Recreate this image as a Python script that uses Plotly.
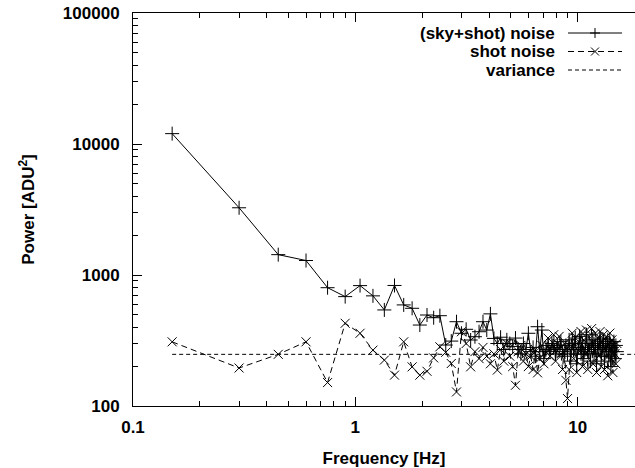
import math
import plotly.graph_objects as go

freq = [0.15, 0.30, 0.45, 0.60, 0.75, 0.90, 1.05, 1.20, 1.35, 1.50,
        1.65, 1.80, 1.95, 2.10, 2.25, 2.40, 2.55, 2.70, 2.85, 3.00,
        3.15, 3.30, 3.45, 3.60, 3.75, 3.90, 4.05, 4.20, 4.35, 4.50,
        4.65, 4.80, 4.95, 5.10, 5.25, 5.40, 5.55, 5.70, 5.85, 6.00,
        6.15, 6.30, 6.45, 6.60, 6.75, 6.90, 7.05, 7.20, 7.35, 7.50,
        7.65, 7.80, 7.95, 8.10, 8.25, 8.40, 8.55, 8.70, 8.85, 9.00,
        9.15, 9.30, 9.45, 9.60, 9.75, 9.90, 10.05, 10.20, 10.35, 10.50,
        10.65, 10.80, 10.95, 11.10, 11.25, 11.40, 11.55, 11.70, 11.85, 12.00,
        12.15, 12.30, 12.45, 12.60, 12.75, 12.90, 13.05, 13.20, 13.35, 13.50,
        13.65, 13.80, 13.95, 14.10, 14.25, 14.40, 14.55, 14.70, 14.85, 15.00]

sky_shot = [12000, 3260, 1430, 1290, 800, 684, 830, 693, 541, 832,
            591, 557, 415, 495, 472, 489, 292, 313, 440, 359,
            385, 319, 338, 369, 440, 380, 505, 328, 300, 335,
            270, 320, 300, 285, 330, 270, 250, 300, 270, 359,
            260, 280, 240, 403, 260, 380, 230, 270, 290, 260,
            300, 280, 250, 290, 270, 310, 260, 240, 290, 250,
            320, 220, 300, 270, 330, 210, 280, 340, 250, 300,
            230, 270, 350, 260, 300, 220, 280, 320, 250, 290,
            210, 300, 270, 330, 240, 280, 310, 220, 290, 260,
            320, 240, 300, 200, 280, 260, 310, 230, 290, 260]

shot = [309, 195, 248, 309, 151, 428, 359, 267, 224, 172,
        309, 199, 172, 184, 233, 283, 257, 211, 128, 369,
        300, 199, 260, 230, 280, 240, 210, 250, 188, 270,
        220, 300, 240, 200, 144, 260, 290, 220, 250, 200,
        240, 190, 270, 179, 230, 290, 210, 260, 330, 240,
        280, 350, 220, 300, 340, 250, 190, 300, 157, 114,
        190, 280, 360, 230, 330, 180, 300, 260, 370, 200,
        320, 250, 380, 190, 340, 270, 390, 210, 300, 360,
        180, 330, 240, 370, 200, 310, 350, 190, 280, 340,
        170, 300, 360, 230, 320, 180, 290, 250, 210, 300]

variance_level = 248
variance_x = [0.15, 30.0]

legend_names = ["(sky+shot) noise", "shot noise", "variance"]

x_major = [0.1, 1, 10]
x_major_text = ["0.1", "1", "10"]
x_minor = [0.2, 0.3, 0.4, 0.5, 0.6, 0.7, 0.8, 0.9, 2, 3, 4, 5, 6, 7, 8, 9, 20]
y_major = [100, 1000, 10000, 100000]
y_major_text = ["100", "1000", "10000", "100000"]
y_minor = [m * d for d in (100, 1000, 10000) for m in range(2, 10)]

W, H = 635, 468
ML, MR, MT, MB = 133, 0, 13, 62
PW, PH = W - ML - MR, H - MT - MB
XR = [-1, math.log10(18.1)]
YR = [2, 5]

FONT = "Liberation Sans, Arial, sans-serif"
FS = 17

fig = go.Figure()
fig.add_trace(go.Scatter(x=freq, y=sky_shot, mode="lines+markers",
                         line=dict(color="black", width=1),
                         marker=dict(symbol="cross-thin-open", size=10,
                                     line=dict(color="black", width=1)),
                         name=legend_names[0], showlegend=False))
fig.add_trace(go.Scatter(x=freq, y=shot, mode="lines+markers",
                         line=dict(color="black", width=1, dash="6px,4px"),
                         marker=dict(symbol="x-thin-open", size=9,
                                     line=dict(color="black", width=1)),
                         name=legend_names[1], showlegend=False))
fig.add_trace(go.Scatter(x=variance_x, y=[variance_level, variance_level],
                         mode="lines",
                         line=dict(color="black", width=1, dash="4px,3px"),
                         name=legend_names[2], showlegend=False))
# invisible helper trace so the minor-tick overlay axes get drawn
fig.add_trace(go.Scatter(x=[1], y=[1000], xaxis="x2", yaxis="y2", mode="markers",
                         marker=dict(opacity=0), hoverinfo="skip", showlegend=False))

fig.update_layout(
    xaxis=dict(type="log", range=XR,
               showline=True, linecolor="black", linewidth=1, mirror="ticks",
               ticks="inside", ticklen=9, tickcolor="black",
               tickmode="array", tickvals=x_major, ticktext=x_major_text,
               showgrid=False, zeroline=False, ticklabelstandoff=6,
               tickfont=dict(family=FONT, size=FS, color="black", weight="bold"),
               title=dict(text="<b>Frequency [Hz]</b>", standoff=16,
                          font=dict(family=FONT, size=FS, color="black"))),
    yaxis=dict(type="log", range=YR,
               showline=True, linecolor="black", linewidth=1, mirror=False,
               ticks="inside", ticklen=9, tickcolor="black",
               tickmode="array", tickvals=y_major, ticktext=y_major_text,
               showgrid=False, zeroline=False, ticklabelstandoff=9,
               tickfont=dict(family=FONT, size=FS, color="black", weight="bold"),
               title=dict(text="<b>Power [ADU<sup>2</sup>]</b>", standoff=23,
                          font=dict(family=FONT, size=FS, color="black"))),
    xaxis2=dict(type="log", range=XR, overlaying="x", anchor="y2", side="bottom",
                showline=False, mirror="ticks", ticks="inside", ticklen=5,
                tickcolor="black", tickmode="array", tickvals=x_minor,
                showticklabels=False, showgrid=False, zeroline=False),
    yaxis2=dict(type="log", range=YR, overlaying="y", anchor="x2", side="left",
                showline=False, ticks="inside", ticklen=5,
                tickcolor="black", tickmode="array", tickvals=y_minor,
                showticklabels=False, showgrid=False, zeroline=False),
)

# manual legend (text on the left, sample on the right, like the reference)
def px_x(p):
    return (p - ML) / PW

def px_y(p):
    return (H - MB - p) / PH

rows_y = [33, 51.5, 70]
text_right = 557
samp_x0, samp_x1 = 568, 622
dashes = ["solid", "6px,4px", "4px,3px"]
shapes = []
annotations = []
for name, ry, dash in zip(legend_names, rows_y, dashes):
    annotations.append(dict(x=px_x(text_right), y=px_y(ry), xref="paper", yref="paper",
                            text="<b>" + name + "</b>", showarrow=False,
                            xanchor="right", yanchor="middle",
                            font=dict(family=FONT, size=FS, color="black")))
    shapes.append(dict(type="line", xref="paper", yref="paper",
                       x0=px_x(samp_x0), x1=px_x(samp_x1), y0=px_y(ry), y1=px_y(ry),
                       line=dict(color="black", width=1, dash=dash)))
mx = (samp_x0 + samp_x1) / 2
# "+" sample marker
shapes.append(dict(type="line", xref="paper", yref="paper",
                   x0=px_x(mx - 5), x1=px_x(mx + 5), y0=px_y(rows_y[0]), y1=px_y(rows_y[0]),
                   line=dict(color="black", width=1)))
shapes.append(dict(type="line", xref="paper", yref="paper",
                   x0=px_x(mx), x1=px_x(mx), y0=px_y(rows_y[0] - 5), y1=px_y(rows_y[0] + 5),
                   line=dict(color="black", width=1)))
# "x" sample marker
shapes.append(dict(type="line", xref="paper", yref="paper",
                   x0=px_x(mx - 4), x1=px_x(mx + 4), y0=px_y(rows_y[1] - 4), y1=px_y(rows_y[1] + 4),
                   line=dict(color="black", width=1)))
shapes.append(dict(type="line", xref="paper", yref="paper",
                   x0=px_x(mx - 4), x1=px_x(mx + 4), y0=px_y(rows_y[1] + 4), y1=px_y(rows_y[1] - 4),
                   line=dict(color="black", width=1)))

fig.update_layout(width=W, height=H,
                  margin=dict(l=ML, r=MR, t=MT, b=MB, autoexpand=False),
                  paper_bgcolor="white", plot_bgcolor="white",
                  showlegend=False, shapes=shapes, annotations=annotations,
                  font=dict(family=FONT, color="black"))
fig.write_html("out.html")
